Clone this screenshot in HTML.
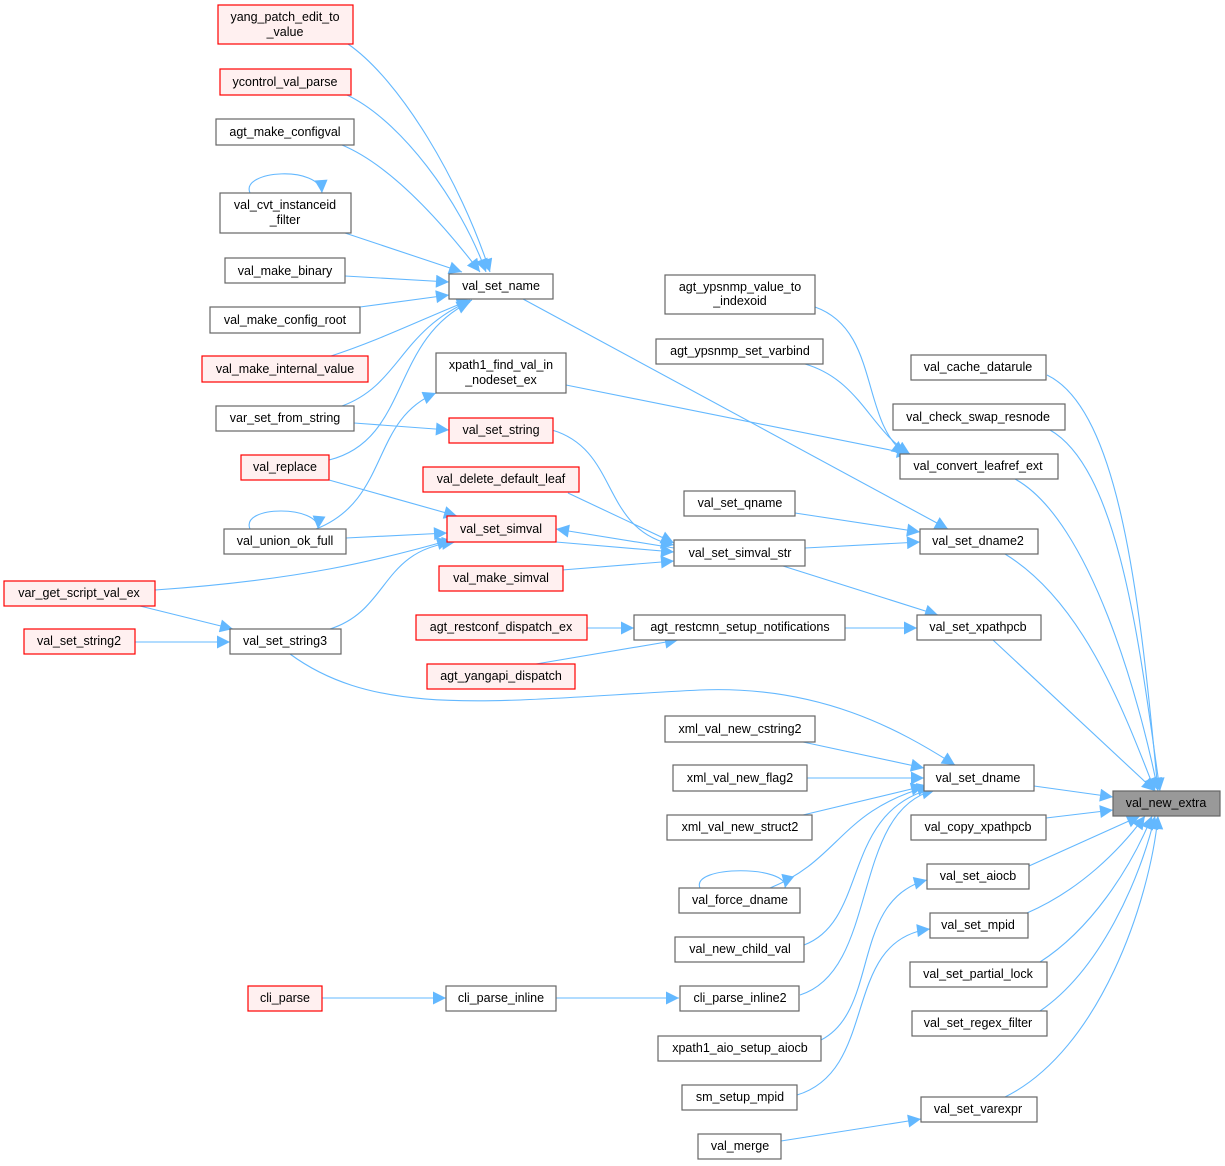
<!DOCTYPE html>
<html><head><meta charset="utf-8"><style>
html,body{margin:0;padding:0;background:#fff;}
svg{display:block;}
text{font-family:"Liberation Sans",Arial,sans-serif;font-size:12.5px;fill:#000;}
.n{fill:#fff;stroke:#666;stroke-width:1.2;}
.r{fill:#fff0f0;stroke:#f00;stroke-width:1.2;}
.g{fill:#999;stroke:#666;stroke-width:1.2;}
path.e{fill:none;stroke:#63b8ff;stroke-width:1.1;}
</style></head><body>
<svg width="1225" height="1166" viewBox="0 0 1225 1166" xmlns="http://www.w3.org/2000/svg">
<defs><marker id="a" viewBox="0 0 10 10" refX="10" refY="5" markerWidth="15" markerHeight="13" markerUnits="userSpaceOnUse" orient="auto"><path d="M0,0L10,5L0,10z" fill="#63b8ff"/></marker></defs>
<g marker-end="url(#a)">
<path class="e" d="M348,44 C400,80 460,180 490,272"/>
<path class="e" d="M347,95 C400,120 460,200 486,272"/>
<path class="e" d="M342,145 C390,165 440,220 480,272"/>
<path class="e" d="M345,233 L462,272"/>
<path class="e" d="M345,276 L449,282"/>
<path class="e" d="M360,307 L449,295"/>
<path class="e" d="M331,356 C380,340 420,320 470,300"/>
<path class="e" d="M342,406 C400,385 400,330 472,300"/>
<path class="e" d="M329,460 C410,440 390,340 470,302"/>
<path class="e" d="M354,423 L449,430"/>
<path class="e" d="M329,480 L457,516"/>
<path class="e" d="M316,529 C390,500 370,420 436,393"/>
<path class="e" d="M346,538 L447,533"/>
<path class="e" d="M155,590 C300,580 380,560 450,540"/>
<path class="e" d="M140,606 L233,629"/>
<path class="e" d="M135,642 L230,642"/>
<path class="e" d="M330,629 C390,610 380,550 455,542"/>
<path class="e" d="M290,654 C380,720 500,700 700,690 C820,685 900,730 955,765"/>
<path class="e" d="M250,193 C240,170 320,165 322,193"/>
<path class="e" d="M250,529 C240,505 320,505 318,529"/>
<path class="e" d="M700,888 C690,865 790,865 785,888"/>
<path class="e" d="M523,299 L948,529"/>
<path class="e" d="M566,385 L910,454"/>
<path class="e" d="M552,430 C620,450 600,530 674,545"/>
<path class="e" d="M568,493 L674,543"/>
<path class="e" d="M674,548 L556,529"/>
<path class="e" d="M556,542 L674,552"/>
<path class="e" d="M562,570 L674,561"/>
<path class="e" d="M587,628 L634,628"/>
<path class="e" d="M536,664 L678,640"/>
<path class="e" d="M845,628 L917,628"/>
<path class="e" d="M783,566 L938,615"/>
<path class="e" d="M795,513 L920,532"/>
<path class="e" d="M805,548 L920,542"/>
<path class="e" d="M815,307 C880,330 860,420 905,454"/>
<path class="e" d="M805,364 C860,380 870,430 910,454"/>
<path class="e" d="M803,742 L924,768"/>
<path class="e" d="M807,778 L924,778"/>
<path class="e" d="M803,815 L924,786"/>
<path class="e" d="M770,888 C840,860 840,810 930,786"/>
<path class="e" d="M804,945 C870,920 840,810 935,788"/>
<path class="e" d="M800,995 C880,970 850,810 935,790"/>
<path class="e" d="M322,998 L446,998"/>
<path class="e" d="M556,998 L679,998"/>
<path class="e" d="M821,1040 C880,1010 850,900 927,880"/>
<path class="e" d="M797,1095 C880,1070 840,940 930,929"/>
<path class="e" d="M781,1141 L921,1119"/>
<path class="e" d="M1047,375 C1120,410 1140,600 1158,791"/>
<path class="e" d="M1050,430 C1120,470 1140,650 1160,791"/>
<path class="e" d="M1015,479 C1090,520 1140,700 1158,791"/>
<path class="e" d="M1005,554 C1080,600 1120,700 1155,791"/>
<path class="e" d="M993,640 L1155,791"/>
<path class="e" d="M1034,786 L1113,797"/>
<path class="e" d="M1046,818 L1113,810"/>
<path class="e" d="M1029,866 L1140,816"/>
<path class="e" d="M1027,913 C1080,890 1120,850 1145,816"/>
<path class="e" d="M1040,962 C1090,930 1130,870 1152,816"/>
<path class="e" d="M1040,1011 C1100,970 1140,880 1155,816"/>
<path class="e" d="M1005,1097 C1100,1050 1150,900 1158,816"/>
</g>
<g text-anchor="middle">
<rect class="r" x="218" y="5" width="135" height="39"/><text x="285" y="21">yang_patch_edit_to</text><text x="285" y="36">_value</text>
<rect class="r" x="220" y="69" width="131" height="26"/><text x="285" y="86">ycontrol_val_parse</text>
<rect class="n" x="216" y="119" width="138" height="26"/><text x="285" y="136">agt_make_configval</text>
<rect class="n" x="220" y="193" width="131" height="40"/><text x="285" y="209">val_cvt_instanceid</text><text x="285" y="224">_filter</text>
<rect class="n" x="225" y="258" width="120" height="25"/><text x="285" y="275">val_make_binary</text>
<rect class="n" x="210" y="307" width="150" height="26"/><text x="285" y="324">val_make_config_root</text>
<rect class="r" x="202" y="356" width="166" height="26"/><text x="285" y="373">val_make_internal_value</text>
<rect class="n" x="216" y="406" width="138" height="25"/><text x="285" y="422">var_set_from_string</text>
<rect class="r" x="241" y="455" width="88" height="25"/><text x="285" y="471">val_replace</text>
<rect class="n" x="224" y="529" width="122" height="25"/><text x="285" y="545">val_union_ok_full</text>
<rect class="r" x="4" y="581" width="151" height="25"/><text x="79" y="597">var_get_script_val_ex</text>
<rect class="r" x="24" y="629" width="111" height="25"/><text x="79" y="645">val_set_string2</text>
<rect class="n" x="230" y="629" width="111" height="25"/><text x="285" y="645">val_set_string3</text>
<rect class="r" x="248" y="986" width="74" height="25"/><text x="285" y="1002">cli_parse</text>
<rect class="n" x="446" y="986" width="110" height="25"/><text x="501" y="1002">cli_parse_inline</text>
<rect class="n" x="449" y="274" width="104" height="25"/><text x="501" y="290">val_set_name</text>
<rect class="n" x="436" y="353" width="130" height="40"/><text x="501" y="369">xpath1_find_val_in</text><text x="501" y="384">_nodeset_ex</text>
<rect class="r" x="449" y="418" width="104" height="25"/><text x="501" y="434">val_set_string</text>
<rect class="r" x="423" y="467" width="156" height="25"/><text x="501" y="483">val_delete_default_leaf</text>
<rect class="r" x="447" y="516" width="109" height="26"/><text x="501" y="533">val_set_simval</text>
<rect class="r" x="439" y="566" width="124" height="25"/><text x="501" y="582">val_make_simval</text>
<rect class="r" x="416" y="615" width="171" height="25"/><text x="501" y="631">agt_restconf_dispatch_ex</text>
<rect class="r" x="427" y="664" width="148" height="25"/><text x="501" y="680">agt_yangapi_dispatch</text>
<rect class="n" x="665" y="275" width="150" height="39"/><text x="740" y="291">agt_ypsnmp_value_to</text><text x="740" y="305">_indexoid</text>
<rect class="n" x="656" y="339" width="167" height="25"/><text x="740" y="355">agt_ypsnmp_set_varbind</text>
<rect class="n" x="684" y="491" width="111" height="25"/><text x="740" y="507">val_set_qname</text>
<rect class="n" x="674" y="540" width="131" height="26"/><text x="740" y="557">val_set_simval_str</text>
<rect class="n" x="634" y="615" width="211" height="25"/><text x="740" y="631">agt_restcmn_setup_notifications</text>
<rect class="n" x="665" y="716" width="150" height="26"/><text x="740" y="733">xml_val_new_cstring2</text>
<rect class="n" x="673" y="765" width="134" height="26"/><text x="740" y="782">xml_val_new_flag2</text>
<rect class="n" x="667" y="815" width="145" height="25"/><text x="740" y="831">xml_val_new_struct2</text>
<rect class="n" x="679" y="888" width="121" height="25"/><text x="740" y="904">val_force_dname</text>
<rect class="n" x="675" y="937" width="129" height="25"/><text x="740" y="953">val_new_child_val</text>
<rect class="n" x="680" y="986" width="119" height="25"/><text x="740" y="1002">cli_parse_inline2</text>
<rect class="n" x="658" y="1036" width="163" height="25"/><text x="740" y="1052">xpath1_aio_setup_aiocb</text>
<rect class="n" x="682" y="1085" width="115" height="25"/><text x="740" y="1101">sm_setup_mpid</text>
<rect class="n" x="698" y="1134" width="83" height="25"/><text x="740" y="1150">val_merge</text>
<rect class="n" x="911" y="355" width="135" height="25"/><text x="978" y="371">val_cache_datarule</text>
<rect class="n" x="893" y="404" width="172" height="26"/><text x="978" y="421">val_check_swap_resnode</text>
<rect class="n" x="900" y="454" width="158" height="25"/><text x="978" y="470">val_convert_leafref_ext</text>
<rect class="n" x="920" y="529" width="118" height="25"/><text x="978" y="545">val_set_dname2</text>
<rect class="n" x="917" y="615" width="124" height="25"/><text x="978" y="631">val_set_xpathpcb</text>
<rect class="n" x="924" y="765" width="110" height="26"/><text x="978" y="782">val_set_dname</text>
<rect class="n" x="911" y="815" width="135" height="25"/><text x="978" y="831">val_copy_xpathpcb</text>
<rect class="n" x="927" y="864" width="102" height="25"/><text x="978" y="880">val_set_aiocb</text>
<rect class="n" x="930" y="913" width="98" height="25"/><text x="978" y="929">val_set_mpid</text>
<rect class="n" x="910" y="962" width="137" height="25"/><text x="978" y="978">val_set_partial_lock</text>
<rect class="n" x="912" y="1011" width="135" height="25"/><text x="978" y="1027">val_set_regex_filter</text>
<rect class="n" x="921" y="1097" width="116" height="25"/><text x="978" y="1113">val_set_varexpr</text>
<rect class="g" x="1113" y="791" width="107" height="25"/><text x="1166" y="807">val_new_extra</text>
</g>
</svg>
</body></html>
